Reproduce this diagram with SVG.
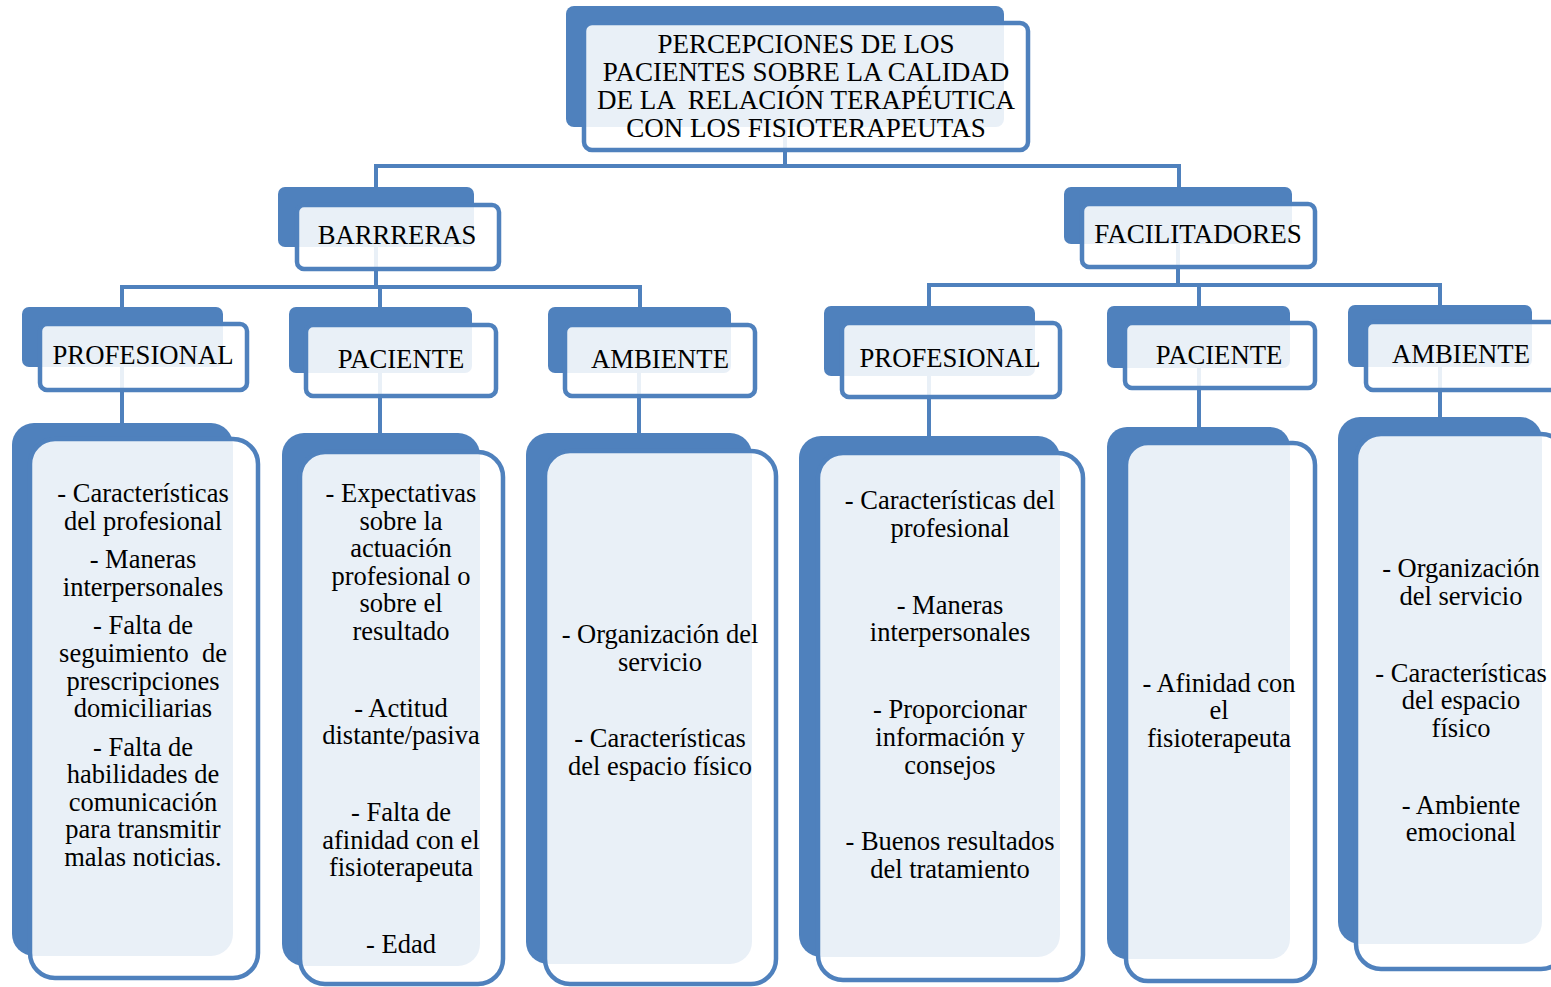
<svg xmlns="http://www.w3.org/2000/svg" width="1551" height="987" viewBox="0 0 1551 987">
  <style>
    .back { fill: #4F81BD; }
    .front { fill: #FFFFFF; fill-opacity: 0.88; stroke: #4F81BD; stroke-width: 4.5; }
    .conn { fill: none; stroke: #4F81BD; stroke-width: 4; stroke-linejoin: miter; }
    .t { font-family: "Liberation Serif", "Times New Roman", serif; font-size: 26.5px; fill: #000000; text-anchor: middle; white-space: pre; }
    .title { font-size: 27px; }
    .lbl { font-size: 26.7px; }
  </style>

  <rect x="0" y="0" width="1551" height="987" fill="#FFFFFF"/>

  <!-- hierarchy lines (drawn first so the translucent boxes sit on top) -->
  <g id="connectors" class="conn">
    <path d="M785 100 V166 M376 188 V166 H1179 V188"/>
    <path d="M376 230 V287 M122 308 V287 H640 V308 M380 287 V308"/>
    <path d="M1178 230 V285 M929 307 V285 H1440 V306 M1199 285 V307"/>
    <path d="M122 350 V424 M380 350 V434 M639 350 V434 M929 350 V437 M1199 350 V428 M1440 350 V418"/>
  </g>

  <!-- root -->
  <g id="root">
    <rect class="back" x="566" y="6" width="438" height="121" rx="8"/>
    <rect class="front" x="584" y="23" width="444" height="127" rx="8"/>
    <text class="t title" x="806" y="53">PERCEPCIONES DE LOS</text>
    <text class="t title" x="806" y="81">PACIENTES SOBRE LA CALIDAD</text>
    <text class="t title" x="806" y="109">DE LA  RELACIÓN TERAPÉUTICA</text>
    <text class="t title" x="806" y="137">CON LOS FISIOTERAPEUTAS</text>
  </g>

  <!-- second level -->
  <g id="barreras">
    <rect class="back" x="278" y="187" width="196" height="60" rx="7"/>
    <rect class="front" x="297" y="205" width="202" height="64" rx="7"/>
    <text class="t lbl" x="397" y="244">BARRRERAS</text>
  </g>
  <g id="facilitadores">
    <rect class="back" x="1064" y="187" width="228" height="57" rx="7"/>
    <rect class="front" x="1082" y="204" width="233" height="63" rx="7"/>
    <text class="t title" x="1198" y="243">FACILITADORES</text>
  </g>

  <!-- third level: barreras -->
  <g id="b-profesional">
    <rect class="back" x="22" y="307" width="201" height="60" rx="7"/>
    <rect class="front" x="40" y="324" width="207" height="66" rx="7"/>
    <text class="t lbl" x="143" y="364">PROFESIONAL</text>
  </g>
  <g id="b-paciente">
    <rect class="back" x="289" y="307" width="183" height="66" rx="7"/>
    <rect class="front" x="306" y="325" width="190" height="71" rx="7"/>
    <text class="t lbl" x="401" y="368">PACIENTE</text>
  </g>
  <g id="b-ambiente">
    <rect class="back" x="548" y="307" width="183" height="66" rx="7"/>
    <rect class="front" x="565" y="325" width="190" height="71" rx="7"/>
    <text class="t lbl" x="660" y="368">AMBIENTE</text>
  </g>

  <!-- third level: facilitadores -->
  <g id="f-profesional">
    <rect class="back" x="824" y="306" width="211" height="70" rx="7"/>
    <rect class="front" x="842" y="323" width="218" height="74" rx="7"/>
    <text class="t lbl" x="950" y="367">PROFESIONAL</text>
  </g>
  <g id="f-paciente">
    <rect class="back" x="1107" y="306" width="183" height="62" rx="7"/>
    <rect class="front" x="1125" y="323" width="190" height="65" rx="7"/>
    <text class="t lbl" x="1219" y="364">PACIENTE</text>
  </g>
  <g id="f-ambiente">
    <rect class="back" x="1348" y="305" width="184" height="62" rx="7"/>
    <rect class="front" x="1366" y="322" width="194" height="68" rx="7"/>
    <text class="t lbl" x="1461" y="363">AMBIENTE</text>
  </g>

  <!-- detail lists: barreras -->
  <g id="b-profesional-list">
    <rect class="back" x="12" y="423" width="221" height="533" rx="22"/>
    <rect class="front" x="30" y="439" width="228" height="539" rx="25"/>
    <text class="t" x="143" y="502">- Características</text>
    <text class="t" x="143" y="530">del profesional</text>
    <text class="t" x="143" y="568">- Maneras</text>
    <text class="t" x="143" y="596">interpersonales</text>
    <text class="t" x="143" y="634">- Falta de</text>
    <text class="t" x="143" y="662">seguimiento  de</text>
    <text class="t" x="143" y="690">prescripciones</text>
    <text class="t" x="143" y="717">domiciliarias</text>
    <text class="t" x="143" y="756">- Falta de</text>
    <text class="t" x="143" y="783">habilidades de</text>
    <text class="t" x="143" y="811">comunicación</text>
    <text class="t" x="143" y="838">para transmitir</text>
    <text class="t" x="143" y="866">malas noticias.</text>
  </g>
  <g id="b-paciente-list">
    <rect class="back" x="282" y="433" width="198" height="533" rx="22"/>
    <rect class="front" x="300" y="452" width="203" height="532" rx="25"/>
    <text class="t" x="401" y="502">- Expectativas</text>
    <text class="t" x="401" y="530">sobre la</text>
    <text class="t" x="401" y="557">actuación</text>
    <text class="t" x="401" y="585">profesional o</text>
    <text class="t" x="401" y="612">sobre el</text>
    <text class="t" x="401" y="640">resultado</text>
    <text class="t" x="401" y="717">- Actitud</text>
    <text class="t" x="401" y="744">distante/pasiva</text>
    <text class="t" x="401" y="821">- Falta de</text>
    <text class="t" x="401" y="849">afinidad con el</text>
    <text class="t" x="401" y="876">fisioterapeuta</text>
    <text class="t" x="401" y="953">- Edad</text>
  </g>
  <g id="b-ambiente-list">
    <rect class="back" x="526" y="433" width="226" height="531" rx="22"/>
    <rect class="front" x="545" y="451" width="231" height="533" rx="25"/>
    <text class="t" x="660" y="643">- Organización del</text>
    <text class="t" x="660" y="671">servicio</text>
    <text class="t" x="660" y="747">- Características</text>
    <text class="t" x="660" y="775">del espacio físico</text>
  </g>

  <!-- detail lists: facilitadores -->
  <g id="f-profesional-list">
    <rect class="back" x="799" y="436" width="261" height="521" rx="22"/>
    <rect class="front" x="818" y="453" width="265" height="527" rx="25"/>
    <text class="t" x="950" y="509">- Características del</text>
    <text class="t" x="950" y="537">profesional</text>
    <text class="t" x="950" y="614">- Maneras</text>
    <text class="t" x="950" y="641">interpersonales</text>
    <text class="t" x="950" y="718">- Proporcionar</text>
    <text class="t" x="950" y="746">información y</text>
    <text class="t" x="950" y="774">consejos</text>
    <text class="t" x="950" y="850">- Buenos resultados</text>
    <text class="t" x="950" y="878">del tratamiento</text>
  </g>
  <g id="f-paciente-list">
    <rect class="back" x="1107" y="427" width="183" height="532" rx="20"/>
    <rect class="front" x="1126" y="443" width="189" height="538" rx="22"/>
    <text class="t" x="1219" y="692">- Afinidad con</text>
    <text class="t" x="1219" y="719">el</text>
    <text class="t" x="1219" y="747">fisioterapeuta</text>
  </g>
  <g id="f-ambiente-list">
    <rect class="back" x="1338" y="417" width="204" height="527" rx="22"/>
    <rect class="front" x="1356" y="434" width="210" height="535" rx="25"/>
    <text class="t" x="1461" y="577">- Organización</text>
    <text class="t" x="1461" y="605">del servicio</text>
    <text class="t" x="1461" y="682">- Características</text>
    <text class="t" x="1461" y="709">del espacio</text>
    <text class="t" x="1461" y="737">físico</text>
    <text class="t" x="1461" y="814">- Ambiente</text>
    <text class="t" x="1461" y="841">emocional</text>
  </g>
</svg>
